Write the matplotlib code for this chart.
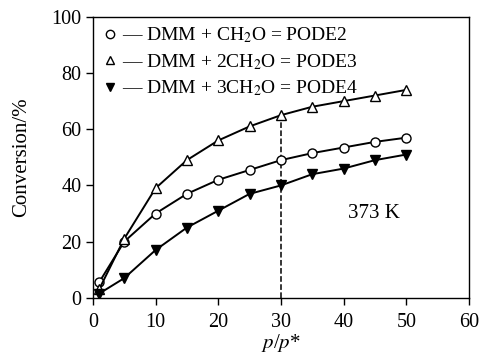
import matplotlib
matplotlib.use('Agg')
import matplotlib.pyplot as plt
from matplotlib.lines import Line2D

plt.rcParams['font.family'] = 'Liberation Serif'
plt.rcParams['mathtext.fontset'] = 'stix'

x = [1, 5, 10, 15, 20, 25, 30, 35, 40, 45, 50]
pode2 = [5.5, 20, 30, 37, 42, 45.5, 49, 51.5, 53.5, 55.5, 57]
pode3 = [3, 21, 39, 49, 56, 61, 65, 68, 70, 72, 74]
pode4 = [1.5, 7, 17, 25, 31, 37, 40, 44, 46, 49, 51]
labels = ['DMM + CH$_2$O = PODE2', 'DMM + 2CH$_2$O = PODE3', 'DMM + 3CH$_2$O = PODE4']

fig = plt.figure(figsize=(4.81, 3.58), dpi=100)
ax = fig.add_axes([0.193, 0.168, 0.782, 0.785])

ax.plot(x, pode2, 'k-', marker='o', mfc='white', mec='k', ms=6.5, lw=1.4, zorder=3)
ax.plot(x, pode3, 'k-', marker='^', mfc='white', mec='k', ms=7.5, lw=1.4, zorder=3)
ax.plot(x, pode4, 'k-', marker='v', mfc='k', mec='k', ms=7.5, lw=1.4, zorder=3)

ax.plot([30, 30], [0, 65], 'k--', lw=1.1, zorder=2)
ax.text(44.8, 30, '373 K', fontsize=15, ha='center', va='center')

ax.set_xlim(0, 60)
ax.set_ylim(0, 100)
ax.set_xticks(range(0, 61, 10))
ax.set_yticks(range(0, 101, 20))
ax.tick_params(direction='out', labelsize=14.5, length=5, width=1)
ax.tick_params(axis='x', pad=6)
ax.tick_params(axis='y', pad=3)
for s in ax.spines.values():
    s.set_linewidth(1)

ax.set_xlabel('$p$/$p$*', fontsize=15, labelpad=0)
ax.set_ylabel('Conversion/%', fontsize=15, labelpad=15)

handles = [
    Line2D([], [], ls='none', marker='o', mfc='white', mec='k', ms=6),
    Line2D([], [], ls='none', marker='^', mfc='white', mec='k', ms=6),
    Line2D([], [], ls='none', marker='v', mfc='k', mec='k', ms=6),
]
ax.legend(handles, ['\u2014 ' + l for l in labels], loc='upper left', frameon=False,
          fontsize=14, handlelength=0.6, handletextpad=0.3, labelspacing=0.35,
          borderaxespad=0.2, bbox_to_anchor=(0.0, 1.01))

fig.savefig('out.png', dpi=100)
